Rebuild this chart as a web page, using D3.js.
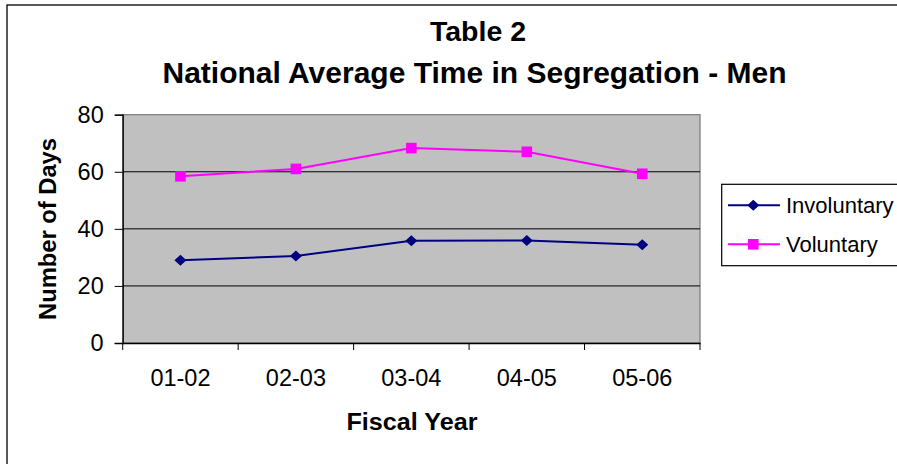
<!DOCTYPE html>
<html><head><meta charset="utf-8">
<script src="https://cdn.jsdelivr.net/npm/d3@7"></script>
<style>
html,body{margin:0;padding:0;background:#fff;}
svg{display:block;font-family:Arial,"Liberation Sans",sans-serif;}
</style></head>
<body>
<svg id="c" width="897" height="464"></svg>
<script>
const categories = ["01-02","02-03","03-04","04-05","05-06"];
const involuntary = [29.0, 30.5, 35.8, 35.9, 34.4];
const voluntary = [58.4, 61.0, 68.3, 67.0, 59.3];
const yTicks = [0,20,40,60,80];
const seriesNames = ["Involuntary","Voluntary"];

const svg = d3.select("#c");
const W = 897, H = 464;
const m = {left:122.7, right:700, top:114.7, bottom:343};

// outer border
svg.append("rect").attr("x",7).attr("y",5).attr("width",W+20).attr("height",H+20)
  .attr("fill","none").attr("stroke","#000").attr("stroke-width",1.3);

const x = d3.scaleBand().domain(categories).range([m.left,m.right]);
const y = d3.scaleLinear().domain([0,80]).range([m.bottom,m.top]);

// plot area
svg.append("rect").attr("x",m.left).attr("y",m.top).attr("width",m.right-m.left).attr("height",m.bottom-m.top)
  .attr("fill","#C0C0C0").attr("stroke","#808080").attr("stroke-width",1.3);

// gridlines
svg.append("g").selectAll("line").data(yTicks.filter(d=>d>0 && d<80)).join("line")
  .attr("x1",m.left).attr("x2",m.right).attr("y1",d=>y(d)).attr("y2",d=>y(d))
  .attr("stroke","#000").attr("stroke-width",1);

// y axis
const ya = svg.append("g").attr("transform",`translate(${m.left},0)`)
  .call(d3.axisLeft(y).tickValues(yTicks).tickSize(8).tickPadding(11).tickFormat(d3.format("d")));
ya.select(".domain").attr("stroke","#000").attr("stroke-width",1.3);
ya.selectAll(".tick line").attr("stroke","#000");
ya.selectAll(".tick text").attr("font-size",23.5).attr("font-family","Arial, Liberation Sans, sans-serif").attr("fill","#000");

// x axis
const xa = svg.append("g").attr("transform",`translate(0,${m.bottom})`)
  .call(d3.axisBottom(x).tickSize(0).tickPadding(0));
xa.select(".domain").attr("stroke","#000").attr("stroke-width",1.3);
xa.selectAll(".tick text").attr("font-size",23.5).attr("font-family","Arial, Liberation Sans, sans-serif")
  .attr("fill","#000").attr("dy",null).attr("y",43);
// band boundary ticks
const bounds = categories.map(c=>x(c)).concat([x(categories[categories.length-1])+x.bandwidth()]);
svg.append("g").selectAll("line").data(bounds).join("line")
  .attr("x1",d=>d).attr("x2",d=>d).attr("y1",m.bottom).attr("y2",m.bottom+7)
  .attr("stroke","#000").attr("stroke-width",1);

// titles
svg.append("text").attr("x",478).attr("y",41).attr("text-anchor","middle")
  .attr("font-size",28.5).attr("font-weight","bold").text("Table 2");
svg.append("text").attr("x",474.5).attr("y",83).attr("text-anchor","middle")
  .attr("font-size",29.5).attr("font-weight","bold")
  .attr("textLength",624).attr("lengthAdjust","spacingAndGlyphs")
  .text("National Average Time in Segregation - Men");
svg.append("text").attr("x",412).attr("y",430).attr("text-anchor","middle")
  .attr("font-size",23.5).attr("font-weight","bold").attr("textLength",131).attr("lengthAdjust","spacingAndGlyphs")
  .text("Fiscal Year");
svg.append("text").attr("transform","translate(56,229) rotate(-90)").attr("text-anchor","middle")
  .attr("font-size",23).attr("font-weight","bold").attr("textLength",182).attr("lengthAdjust","spacingAndGlyphs")
  .text("Number of Days");

const cx = d => x(d) + x.bandwidth()/2;
const line = d3.line().x((d,i)=>cx(categories[i])).y(d=>y(d));

const colors = ["#000080","#FF00FF"];
const series = [involuntary, voluntary];

function marker(g, type, color, px, py){
  if(type===0){
    g.append("path").attr("d",`M${px},${py-5.5}L${px+6},${py}L${px},${py+5.5}L${px-6},${py}Z`).attr("fill",color);
  } else {
    g.append("rect").attr("x",px-5.3).attr("y",py-5.3).attr("width",10.6).attr("height",10.6).attr("fill",color);
  }
}

series.forEach((s,k)=>{
  svg.append("path").datum(s).attr("d",line).attr("fill","none").attr("stroke",colors[k]).attr("stroke-width",2);
  const g = svg.append("g");
  s.forEach((v,i)=>marker(g,k,colors[k],cx(categories[i]),y(v)));
});

// legend
svg.append("rect").attr("x",721.7).attr("y",184.3).attr("width",200).attr("height",81.4)
  .attr("fill","#fff").attr("stroke","#000").attr("stroke-width",1.2);
const ly = [205.3, 244.3];
seriesNames.forEach((n,k)=>{
  svg.append("line").attr("x1",728).attr("x2",780).attr("y1",ly[k]).attr("y2",ly[k])
    .attr("stroke",colors[k]).attr("stroke-width",2);
  marker(svg,k,colors[k],753.3,ly[k]);
  svg.append("text").attr("x",786).attr("y",ly[k]+8).attr("font-size",22).text(n);
});
</script>
</body></html>
